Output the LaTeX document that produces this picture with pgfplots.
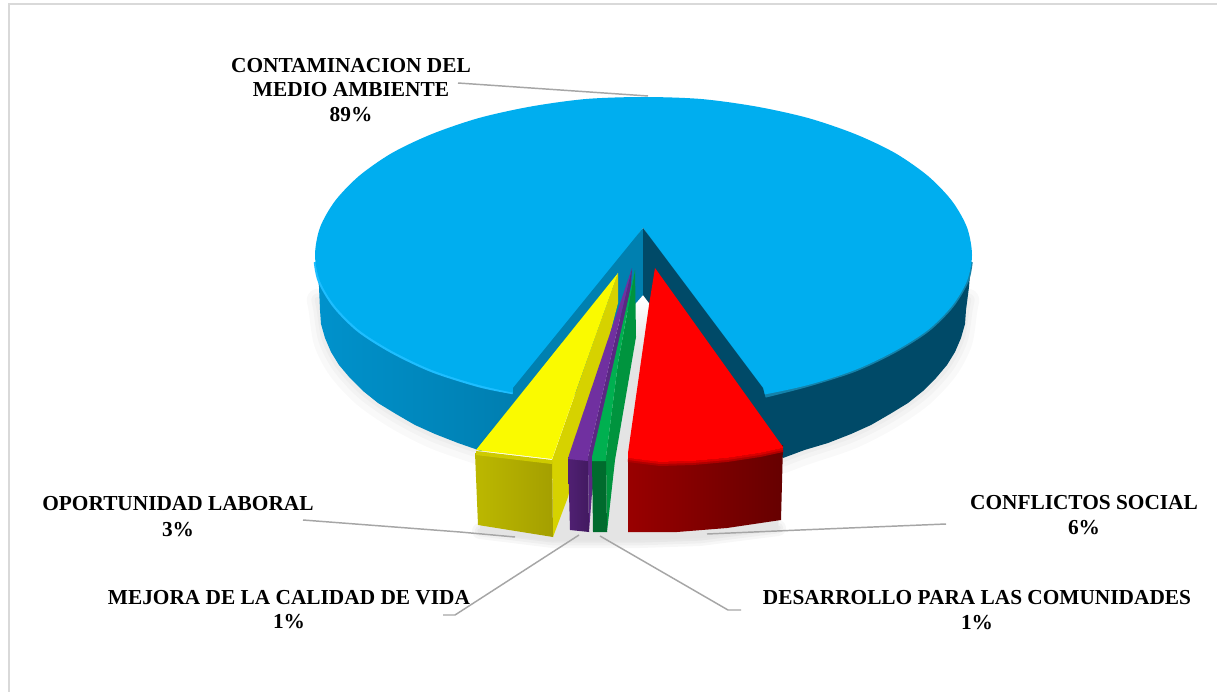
\documentclass[border=0pt]{standalone}
\usepackage{pgfplots}
\pgfplotsset{compat=1.18}
\usepackage{fontspec}
\setmainfont{Liberation Serif}
\definecolor{skyb}{HTML}{00AEEF}
\definecolor{wallL}{HTML}{0080B0}
\definecolor{wallR}{HTML}{004A68}
\definecolor{leader}{HTML}{A6A6A6}
\definecolor{frame}{HTML}{D9D9D9}
\definecolor{sideA}{HTML}{0092CC}
\definecolor{sideB}{HTML}{007AAA}
\definecolor{rimR}{HTML}{1482AA}
\definecolor{rimL}{HTML}{1EBEFF}
\definecolor{shad}{HTML}{E4E4E4}
\definecolor{yelTop}{HTML}{FAFA00}
\definecolor{yelWall}{HTML}{D6D200}
\definecolor{yelLip}{HTML}{CECA00}
\definecolor{yelA}{HTML}{BCB800}
\definecolor{yelB}{HTML}{A49F00}
\definecolor{purTop}{HTML}{7030A0}
\definecolor{purWall}{HTML}{5A2882}
\definecolor{purA}{HTML}{502073}
\definecolor{purB}{HTML}{421A60}
\definecolor{greTop}{HTML}{00B050}
\definecolor{greWall}{HTML}{00943E}
\definecolor{greFront}{HTML}{006B2D}
\definecolor{redA}{HTML}{990000}
\definecolor{redB}{HTML}{660000}
\definecolor{redLip}{HTML}{B00000}
\definecolor{redLipB}{HTML}{D80000}
\tikzset{lbl/.style={font=\fontsize{16pt}{18pt}\selectfont\bfseries, text=black, inner sep=0pt, anchor=center}}
\begin{document}
\begin{tikzpicture}
\begin{axis}[
  scale only axis, width=912.75pt, height=519pt,
  xmin=0, xmax=1217, ymin=0, ymax=692, y dir=reverse,
  hide axis, clip=true,
  every axis plot/.append style={forget plot},
]
% page
\addplot[fill=white, draw=none] coordinates {(0,0) (1217,0) (1217,692) (0,692)} --cycle;
% frame
\addplot[frame, line width=1.9pt] coordinates {(9,692) (9,4) (1217,4)};
% shadows under the disc
\addplot[black, opacity=0.025, line width=17pt, line cap=round, smooth] coordinates {(481,454) (435,438) (396,418) (363,395) (339,369) (325,342) (320,310) (318,300)};
\addplot[black, opacity=0.025, line width=10pt, line cap=round, smooth] coordinates {(481,452) (435,436) (396,416) (363,393) (339,367) (325,340) (320,310) (318,300)};
\addplot[black, opacity=0.025, line width=5pt, line cap=round, smooth] coordinates {(481,451) (435,435) (396,415) (363,392) (339,366) (325,339) (320,310) (318,300)};
\addplot[black, opacity=0.025, line width=17pt, line cap=round, smooth] coordinates {(783,462) (804,454) (851,438) (890,418) (923,395) (947,369) (961,342) (966,310) (968,300)};
\addplot[black, opacity=0.025, line width=10pt, line cap=round, smooth] coordinates {(783,460) (804,452) (851,436) (890,416) (923,393) (947,367) (961,340) (966,310) (968,300)};
\addplot[black, opacity=0.025, line width=5pt, line cap=round, smooth] coordinates {(783,459) (804,451) (851,435) (890,415) (923,392) (947,366) (961,339) (966,310) (968,300)};
% sides of the big slice
\addplot[left color=sideA, right color=sideB, draw=none] coordinates {(560,300) (540,400) (481,451) (458,443) (435,434) (415,425) (396,414) (378,403) (363,391) (350,378) (339,365) (331,352) (325,338) (321,324) (320,310) (319,287) (316,262) (400,200)} --cycle;
\addplot[fill=wallR, draw=none] coordinates {(730,300) (730,400) (783,458) (804.5,450) (828,443) (851,434) (871,425) (890,414) (908,403) (923,391) (936,378) (947,365) (955,352) (961,338) (965,324) (966,310) (969,287) (971,262) (900,200)} --cycle;
% rim shade on the right, highlight on the left
\addplot[rimR, line width=2.6pt, smooth] coordinates {(971,262) (967,281) (952,306) (928,330) (895,351) (855,370) (808,385) (765,396)};
\addplot[rimL, line width=3.4pt, smooth] coordinates {(316,262) (320,281) (335,306) (359,330) (392,351) (432,370) (479,385) (513,392)};
% top face of the big slice
\addplot[fill=skyb, draw=none, smooth cycle] coordinates {(972,255) (967,227.5) (952,201) (928,176) (895,153) (855,134) (808,118) (756,106.5) (701,99) (643.5,97) (586,99) (531,106.5) (479,118) (432,134) (392,153) (359,176) (335,201) (320,227.5) (315,255) (320,281) (335,306) (359,330) (392,351) (432,370) (479,385) (531,396) (586,403) (643.5,405) (701,403) (756,396) (808,385) (855,370) (895,351) (928,330) (952,306) (967,281)};
% white wedge cut out of the disc
\addplot[fill=white, draw=none] coordinates {(643,228) (525,392) (525,425) (760,425) (755,396)} --cycle;
% shadow under the exploded slices
\addplot[black, opacity=0.03, line width=12pt, line cap=round] coordinates {(480,531) (553,540) (640,540) (700,538) (778,528)};
\addplot[black, opacity=0.03, line width=8pt, line cap=round] coordinates {(480,531) (553,540) (640,540) (700,538) (778,528)};
\addplot[black, opacity=0.03, line width=4pt, line cap=round] coordinates {(480,531) (553,540) (640,540) (700,538) (778,528)};
\addplot[top color=white, bottom color=shad, draw=none] coordinates {(610,300) (655,300) (650,350) (605,350)} --cycle;
\addplot[fill=shad, draw=none] coordinates {(605,350) (650,350) (640,500) (780,500) (778,530) (700,538) (640,540) (553,541) (480,532) (480,510) (560,480)} --cycle;
% inner walls
\addplot[fill=wallL, draw=none] coordinates {(643,228) (513,388) (513,397) (476,450) (560,420) (618,320) (636,303) (643,295)} --cycle;
\addplot[fill=wallR, draw=none] coordinates {(643,228) (763,388) (765,396) (783,450) (700,400) (649,303) (643,295)} --cycle;
% yellow
\addplot[fill=yelWall, draw=none] coordinates {(618,273) (618,303) (568,497) (553,537) (552,460) (593,343)} --cycle;
\addplot[left color=yelA, right color=yelB, draw=none] coordinates {(475,453) (552,462) (553,537) (478,525)} --cycle;
\addplot[color=yelLip, line width=3pt] coordinates {(476,453) (552,462)};
\addplot[fill=yelTop, draw=none] coordinates {(618,273) (593,343) (552,459) (476,450)} --cycle;
% purple
\addplot[fill=purWall, draw=none] coordinates {(632,268) (631,285) (592,493) (589,532) (588,457) (612,352)} --cycle;
\addplot[left color=purA, right color=purB, draw=none] coordinates {(568,457) (588,459) (589,532) (570,530)} --cycle;
\addplot[fill=purTop, draw=none] coordinates {(632,268) (612,352) (588,457) (588,461) (568,459) (569,455)} --cycle;
% green
\addplot[fill=greWall, draw=none] coordinates {(635,270) (636,337) (615,460) (607,532) (606,457) (618,363)} --cycle;
\addplot[fill=greFront, draw=none] coordinates {(592,459) (606,459) (607,532) (593,532)} --cycle;
\addplot[fill=greTop, draw=none] coordinates {(635,270) (618,363) (606,457) (606,461) (592,461) (592,457)} --cycle;
% red
\addplot[left color=redA, right color=redB, draw=none] coordinates {(628,455) (660,459) (693,458) (727,455) (760,450) (783,445) (781,520) (727,528) (677,532) (628,532)} --cycle;
\addplot[color=redLip, line width=3pt] coordinates {(628,460) (660,464) (693,463) (727,460) (760,455) (783,450)};
\addplot[color=redLipB, line width=1.5pt] coordinates {(628,459) (660,463) (693,462) (727,459) (760,454) (783,449)};
\addplot[fill=red, draw=none] coordinates {(655,268) (649,305) (628,453) (628,458) (660,462) (693,461) (727,458) (760,453) (783,448) (783,447)} --cycle;
% leaders
\addplot[leader, line width=1.1pt] coordinates {(458,83) (648,96)};
\addplot[leader, line width=1.1pt] coordinates {(303,520) (460,532) (515,537)};
\addplot[leader, line width=1.1pt] coordinates {(707,534) (800,530) (946,524)};
\addplot[leader, line width=1.1pt] coordinates {(579,535) (455,615) (443,615)};
\addplot[leader, line width=1.1pt] coordinates {(600,536) (728,610) (741,610)};
% labels
\node[lbl] at (axis cs:351,66) {CONTAMINACION DEL};
\node[lbl] at (axis cs:351,90) {MEDIO AMBIENTE};
\node[lbl] at (axis cs:351,115) {89\%};
\node[lbl] at (axis cs:178,504) {OPORTUNIDAD LABORAL};
\node[lbl] at (axis cs:178,530) {3\%};
\node[lbl] at (axis cs:289,598) {MEJORA DE LA CALIDAD DE VIDA};
\node[lbl] at (axis cs:289,622) {1\%};
\node[lbl] at (axis cs:977,598) {DESARROLLO PARA LAS COMUNIDADES};
\node[lbl] at (axis cs:977,623) {1\%};
\node[lbl] at (axis cs:1084,503) {CONFLICTOS SOCIAL};
\node[lbl] at (axis cs:1084,528) {6\%};
\end{axis}
\end{tikzpicture}
\end{document}
